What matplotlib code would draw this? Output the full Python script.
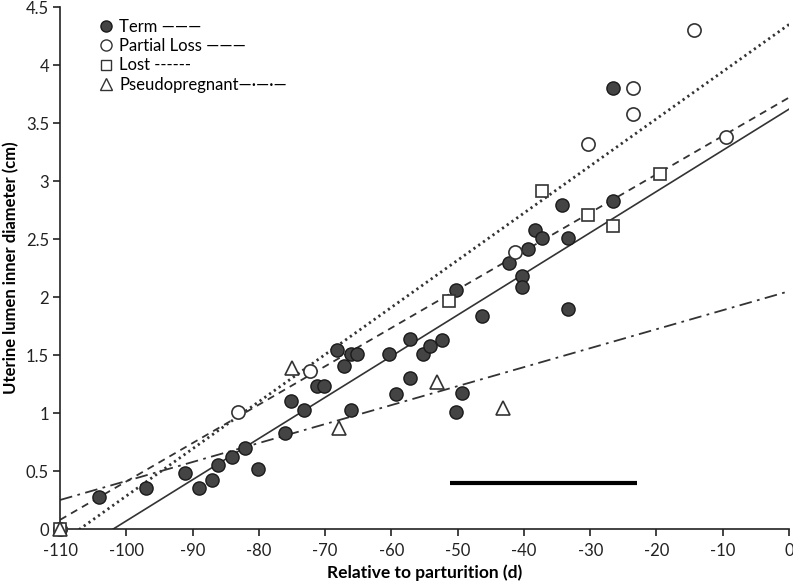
import numpy as np
import matplotlib
matplotlib.use("Agg")
import matplotlib.pyplot as plt
from matplotlib.lines import Line2D

plt.rcParams['font.family'] = ['Lato', 'DejaVu Sans']

# ---- data ----
term_x = [-110, -104.1, -97.0, -91.2, -89.0, -87.1, -86.1, -84.0, -82.1, -80.2,
          -76.0, -75.2, -73.2, -71.3, -70.2, -68.2, -67.2, -66.1, -65.2, -66.1,
          -60.3, -59.3, -57.2, -57.2, -55.2, -54.2, -52.4, -50.2, -50.2, -49.3,
          -46.3, -42.2, -40.3, -40.3, -39.4, -38.4, -37.3, -34.2, -33.4, -33.4,
          -26.5, -26.5]
term_y = [0.0, 0.28, 0.35, 0.48, 0.35, 0.42, 0.55, 0.62, 0.70, 0.52,
          0.83, 1.10, 1.03, 1.235, 1.235, 1.54, 1.405, 1.506, 1.506, 1.03,
          1.506, 1.16, 1.64, 1.30, 1.506, 1.58, 1.63, 2.06, 1.01, 1.175,
          1.84, 2.29, 2.18, 2.09, 2.41, 2.58, 2.51, 2.79, 2.51, 1.90,
          3.80, 2.83]

partial_x = [-110, -83.2, -72.3, -41.4, -30.4, -23.5, -23.5, -14.4, -9.5]
partial_y = [0.0, 1.01, 1.36, 2.39, 3.32, 3.80, 3.58, 4.30, 3.38]

lost_x = [-110, -51.3, -37.3, -30.4, -26.5, -19.4]
lost_y = [0.0, 1.97, 2.91, 2.71, 2.61, 3.06]

pseudo_x = [-110, -75.0, -67.9, -53.1, -43.1]
pseudo_y = [0.0, 1.385, 0.87, 1.27, 1.04]

# fitted regression lines: (intercept at day 0, slope per day)
term_fit = (3.62, 0.0355)
partial_fit = (4.35, 0.04065)
lost_fit = (3.72, 0.0331)
pseudo_fit = (2.05, 0.01636)

# horizontal bar annotation
bar_x = [-51.1, -23.0]
bar_y = [0.395, 0.395]

xticks = list(range(-110, 1, 10))
yticks = [0, 0.5, 1, 1.5, 2, 2.5, 3, 3.5, 4, 4.5]
ytick_labels = ['0', '0.5', '1', '1.5', '2', '2.5', '3', '3.5', '4', '4.5']

# ---- figure ----
fig = plt.figure(figsize=(7.93, 5.88), dpi=100)
ax = fig.add_axes([0.0757, 0.1003, 0.9193, 0.8877])

xx = np.linspace(-110, 0, 200)
lc = '#333333'
ax.plot(xx, term_fit[0] + term_fit[1] * xx, color=lc, lw=1.2, ls='-')
ax.plot(xx, partial_fit[0] + partial_fit[1] * xx, color=lc, lw=2.0, ls=(0, (0.8, 1.3)))
ax.plot(xx, lost_fit[0] + lost_fit[1] * xx, color=lc, lw=1.3, ls=(0, (4, 3)))
ax.plot(xx, pseudo_fit[0] + pseudo_fit[1] * xx, color=lc, lw=1.3, ls=(0, (7, 3, 1.5, 3)))

ms = 9.5
ax.plot(term_x, term_y, 'o', ms=ms, mfc='#444444', mec='#1a1a1a', mew=1.0, ls='none', clip_on=False, zorder=3)
ax.plot(partial_x, partial_y, 'o', ms=ms, mfc='white', mec='#333333', mew=1.2, ls='none', clip_on=False, zorder=3)
ax.plot(lost_x, lost_y, 's', ms=ms - 0.5, mfc='white', mec='#333333', mew=1.2, ls='none', clip_on=False, zorder=3)
ax.plot(pseudo_x, pseudo_y, '^', ms=ms + 1, mfc='white', mec='#333333', mew=1.2, ls='none', clip_on=False, zorder=3)

ax.plot(bar_x, bar_y, color='black', lw=3, solid_capstyle='butt')

ax.set_xlim(-110, 0)
ax.set_ylim(0, 4.5)
ax.set_xticks(xticks)
ax.set_xticklabels([str(t) for t in xticks])
ax.set_yticks(yticks)
ax.set_yticklabels(ytick_labels)
for s in ['top', 'right']:
    ax.spines[s].set_visible(False)
for s in ['left', 'bottom']:
    ax.spines[s].set_color('#222222')
    ax.spines[s].set_linewidth(1.2)
ax.tick_params(direction='out', length=5, width=1.2, colors='#222222', labelsize=12, pad=3)
ax.tick_params(axis='x', pad=5)

ax.set_xlabel('Relative to parturition (d)', fontsize=12.5, fontweight='bold', labelpad=4)
ax.set_ylabel('Uterine lumen inner diameter (cm)', fontsize=12, fontweight='bold', labelpad=5)

handles = [
    Line2D([], [], marker='o', ls='none', ms=8, mfc='#444444', mec='#1a1a1a'),
    Line2D([], [], marker='o', ls='none', ms=8, mfc='white', mec='#333333'),
    Line2D([], [], marker='s', ls='none', ms=7.5, mfc='white', mec='#333333'),
    Line2D([], [], marker='^', ls='none', ms=9, mfc='white', mec='#333333'),
]
labels = ['Term \u2014\u2014\u2014', 'Partial Loss \u2014\u2014\u2014', 'Lost ------',
          'Pseudopregnant\u2014\u00b7\u2014\u00b7\u2014']
leg = ax.legend(handles, labels, loc='upper left', bbox_to_anchor=(0.038, 1.0),
                frameon=False, fontsize=12, handlelength=0.8, handletextpad=0.4,
                labelspacing=0.2, borderaxespad=0.3)

fig.savefig('out.png', dpi=100)
